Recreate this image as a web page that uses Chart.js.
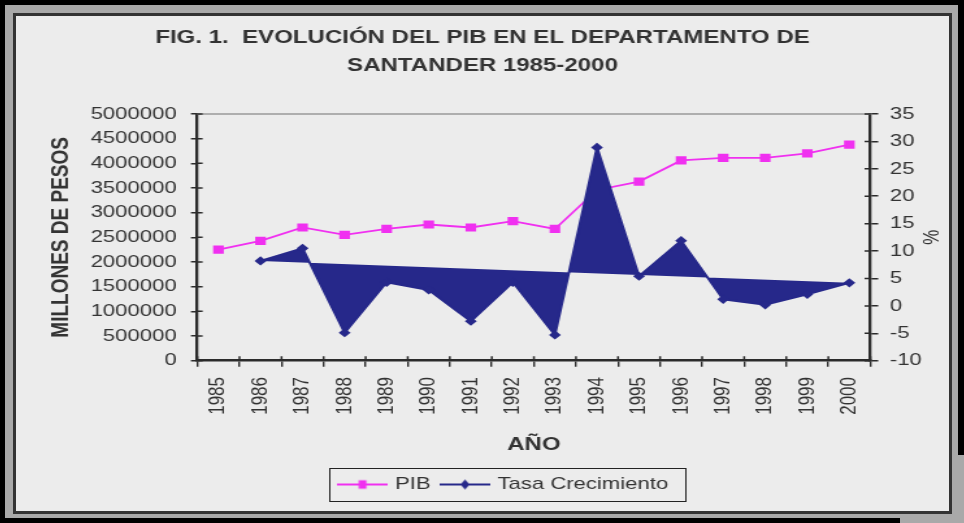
<!DOCTYPE html>
<html>
<head>
<meta charset="utf-8">
<style>
  html, body { margin: 0; padding: 0; }
  body { width: 964px; height: 523px; position: relative; overflow: hidden; background: #a9a9a9; }
  .edge { position: absolute; background: #000; }
  #panel { position: absolute; left: 13px; top: 13px; width: 933px; height: 495px; border: 3px solid #333; background: #ececec; }
</style>
<script src="https://cdn.jsdelivr.net/npm/chart.js"></script>
</head>
<body>
<div class="edge" style="left:0;top:0;width:964px;height:5px"></div>
<div class="edge" style="left:0;top:0;width:5px;height:523px"></div>
<div class="edge" style="left:0;top:518px;width:900px;height:5px"></div>
<div class="edge" style="left:958px;top:0;width:6px;height:455px"></div>
<div id="panel">
  <!-- drawn narrow and shown wide, like the stretched original -->
  <canvas id="chart" width="718" height="495" style="width:933px;height:495px"></canvas>
</div>

<script>
const years = ['1985', '1986', '1987', '1988', '1989', '1990', '1991', '1992',
               '1993', '1994', '1995', '1996', '1997', '1998', '1999', '2000'];

// PIB, millones de pesos
const pib = [2250000, 2430000, 2700000, 2550000, 2670000, 2760000, 2700000, 2830000,
             2670000, 3460000, 3630000, 4060000, 4110000, 4110000, 4200000, 4380000];

// tasa de crecimiento, %
const tasa = [null, 8.2, 10.5, -4.9, 4.3, 2.9, -2.8, 4.3,
              -5.3, 28.9, 5.4, 11.9, 1.2, 0.2, 2.1, 4.2];

const pibTicks = [0, 500000, 1000000, 1500000, 2000000, 2500000,
                  3000000, 3500000, 4000000, 4500000, 5000000];
const tasaTicks = [-10, -5, 0, 5, 10, 15, 20, 25, 30, 35];

const MAGENTA = '#f030f0';
const NAVY = '#26288a';
const AXIS = '#2b2b2b';
const TEXT = '#333333';
const LEGEND_DX = 17;

Chart.defaults.font.family = "'Liberation Sans', Arial, sans-serif";
Chart.defaults.color = TEXT;

// legend symbol: short line with the marker in the middle
function legendSprite(color, diamond) {
  const c = document.createElement('canvas');
  c.width = 39;
  c.height = 12;
  const g = c.getContext('2d');
  g.strokeStyle = color;
  g.lineWidth = 2;
  g.beginPath();
  g.moveTo(0, 6);
  g.lineTo(39, 6);
  g.stroke();
  g.fillStyle = color;
  if (diamond) {
    g.beginPath();
    g.moveTo(19.5, 1);
    g.lineTo(23, 6);
    g.lineTo(19.5, 11);
    g.lineTo(16, 6);
    g.closePath();
    g.fill();
  } else {
    g.fillRect(16.5, 1.75, 6, 8.5);
  }
  return c;
}
const sprites = [legendSprite(MAGENTA, false), legendSprite(NAVY, true)];

const excelLook = {
  id: 'excelLook',
  afterLayout(chart) {
    chart.legend.left += LEGEND_DX;
    chart.legend.right += LEGEND_DX;
  },
  beforeDatasetsDraw(chart) {
    const {ctx, chartArea: a} = chart;
    ctx.save();
    ctx.strokeStyle = '#9a9a9a';
    ctx.lineWidth = 1.5;
    ctx.beginPath();
    ctx.moveTo(a.left, a.top);
    ctx.lineTo(a.right, a.top);
    ctx.stroke();
    ctx.restore();
  },
  afterDatasetsDraw(chart) {
    // tick marks cross the axes, draw the inner halves
    const {ctx, chartArea: a, scales} = chart;
    ctx.save();
    ctx.strokeStyle = AXIS;
    ctx.lineWidth = 1.5;
    ctx.beginPath();
    scales.y.ticks.forEach(t => {
      const y = scales.y.getPixelForValue(t.value);
      ctx.moveTo(a.left, y);
      ctx.lineTo(a.left + 4, y);
    });
    scales.y1.ticks.forEach(t => {
      const y = scales.y1.getPixelForValue(t.value);
      ctx.moveTo(a.right, y);
      ctx.lineTo(a.right - 4.5, y);
    });
    for (let i = 0; i <= years.length; i++) {
      const x = scales.x.getPixelForValue(i - 0.5);
      ctx.moveTo(x, a.bottom);
      ctx.lineTo(x, a.bottom - 4.5);
    }
    ctx.stroke();
    ctx.restore();
  },
  afterDraw(chart) {
    const boxes = chart.legend.legendHitBoxes;
    if (!boxes || !boxes.length) return;
    const first = boxes[0];
    const last = boxes[boxes.length - 1];
    const ctx = chart.ctx;
    ctx.save();
    ctx.strokeStyle = '#222';
    ctx.lineWidth = 1;
    const l = first.left - 9.5;
    const r = last.left + last.width + 13;
    const t = first.top - 8;
    const b = first.top + first.height + 8;
    ctx.strokeRect(Math.round(l) + 0.5, Math.round(t) + 0.5, Math.round(r - l), Math.round(b - t));
    ctx.restore();
  }
};

new Chart(document.getElementById('chart'), {
  type: 'line',
  data: {
    labels: years,
    datasets: [
      {
        label: 'PIB',
        data: pib,
        yAxisID: 'y',
        order: 1,
        borderColor: MAGENTA,
        backgroundColor: MAGENTA,
        borderWidth: 1.8,
        pointStyle: 'rect',
        pointRadius: 5.8,
        pointBorderWidth: 0,
        pointBackgroundColor: MAGENTA,
        fill: false,
        tension: 0
      },
      {
        label: 'Tasa Crecimiento',
        data: tasa,
        yAxisID: 'y1',
        order: 0,
        borderColor: NAVY,
        backgroundColor: NAVY,
        borderWidth: 2,
        pointStyle: 'rectRot',
        pointRadius: 4.6,
        pointBorderWidth: 0,
        pointBackgroundColor: NAVY,
        fill: 'shape',
        tension: 0
      }
    ]
  },
  options: {
    responsive: false,
    animation: false,
    devicePixelRatio: 1,
    layout: { padding: { left: 0, right: 0, top: 0, bottom: 8 } },
    plugins: {
      title: {
        display: true,
        text: ['FIG. 1.  EVOLUCIÓN DEL PIB EN EL DEPARTAMENTO DE', 'SANTANDER 1985-2000'],
        color: TEXT,
        font: { size: 18.5, weight: 'bold', lineHeight: '28px' },
        padding: { top: 8.3, bottom: 33.7 }
      },
      legend: {
        position: 'bottom',
        labels: {
          color: TEXT,
          font: { size: 17 },
          usePointStyle: true,
          pointStyleWidth: 33,
          padding: 10,
          generateLabels(chart) {
            const items = Chart.defaults.plugins.legend.labels.generateLabels(chart);
            items.forEach(it => { it.pointStyle = sprites[it.datasetIndex]; });
            return items;
          },
          sort: (a, b) => a.datasetIndex - b.datasetIndex
        }
      },
      tooltip: { enabled: false }
    },
    scales: {
      x: {
        type: 'category',
        offset: true,
        grid: { offset: true, drawOnChartArea: false, tickLength: 6, color: AXIS, lineWidth: 1.4 },
        border: { color: AXIS, width: 2.6 },
        ticks: { autoSkip: false, minRotation: 90, maxRotation: 90, padding: 10.3, color: TEXT, font: { size: 17 } },
        title: {
          display: true, text: 'AÑO', color: TEXT,
          font: { size: 18.5, weight: 'bold' },
          padding: { top: 0, bottom: 9.9 }
        },
        afterFit: s => { s.height = 105.3; }
      },
      y: {
        position: 'left',
        min: 0,
        max: 5000000,
        afterBuildTicks: s => { s.ticks = pibTicks.map(v => ({ value: v })); },
        grid: { drawOnChartArea: false, tickLength: 5, color: AXIS, lineWidth: 1.5 },
        border: { color: AXIS, width: 2.3 },
        ticks: { padding: 11, color: TEXT, font: { size: 17 }, callback: v => String(v) },
        title: {
          display: true, text: 'MILLONES DE PESOS', color: TEXT,
          font: { size: 19, weight: 'bold' },
          padding: { top: 23, bottom: 0 }
        },
        afterFit: s => { s.width = 139.6; }
      },
      y1: {
        position: 'right',
        min: -10,
        max: 35,
        afterBuildTicks: s => { s.ticks = tasaTicks.map(v => ({ value: v })); },
        grid: { drawOnChartArea: false, tickLength: 6, color: AXIS, lineWidth: 1.5 },
        border: { color: AXIS, width: 2.3 },
        ticks: { padding: 9, color: TEXT, font: { size: 17 }, callback: v => String(v) },
        title: {
          display: true, text: '%', color: TEXT,
          font: { size: 17 },
          padding: { top: 4.8, bottom: 0 }
        },
        afterFit: s => { s.width = 60.5; }
      }
    }
  },
  plugins: [excelLook]
});
</script>
</body>
</html>
